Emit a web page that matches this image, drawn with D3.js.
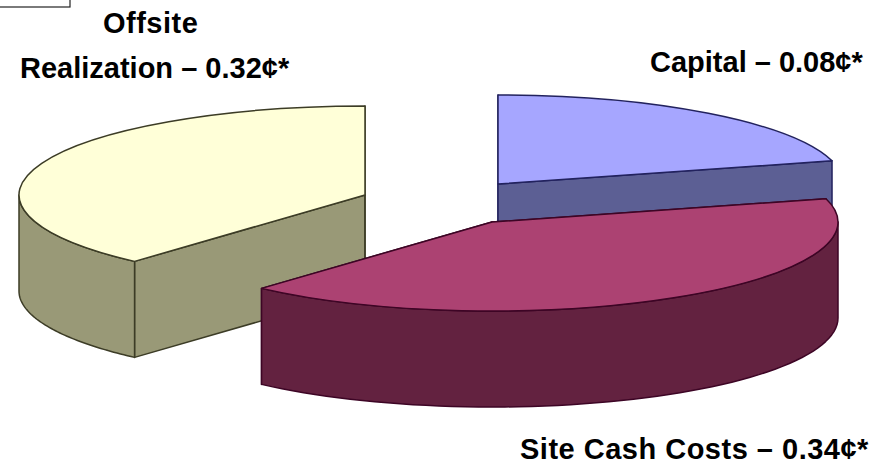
<!DOCTYPE html>
<html>
<head>
<meta charset="utf-8">
<script src="https://cdn.jsdelivr.net/npm/d3@7"></script>
<style>
  html, body { margin: 0; padding: 0; background: #fff; }
  svg { display: block; }
  text { font-family: "Liberation Sans", Arial, sans-serif; font-weight: bold; fill: #000; }
</style>
</head>
<body>
<div id="chart"></div>
<script>
/* Exploded 3D pie, cost per unit split in three */

const categories = ["Capital", "Site Cash Costs", "Offsite Realization"];
const costs = ["0.08", "0.34", "0.32"]; // cents, as printed in the labels
const shares = [20.8, 40.8, 38.4]; // slice size as drawn (%)

const topColors = ["#a6a6ff", "#ac4272", "#ffffd8"];
const wallColors = ["#5c5f94", "#632240", "#999977"];
const edgeColors = ["#22225e", "#3d0525", "#3c3c26"];

const width = 878,
      height = 464,
      rx = 346,
      ry = 89,
      depth = 96;

// where each slice got pulled to
const centers = [[498, 184], [492, 222], [365, 195]];

let svg = d3.select("#chart")
    .append("svg")
    .attr("width", width)
    .attr("height", height)
    .attr("viewBox", [0, 0, width, height]);

let pie = d3.pie().sort(null).value(d => d);
let slices = pie(shares);

let arc = d3.arc().innerRadius(0).outerRadius(rx);
let line = d3.line();

// screen position of a rim point on the tilted pie
const rim = (i, a, drop = 0) => [
    centers[i][0] + rx * Math.sin(a),
    centers[i][1] - ry * Math.cos(a) + drop
];

function cutFace(i, a) {
    return line([centers[i], rim(i, a), rim(i, a, depth), [centers[i][0], centers[i][1] + depth]]) + "Z";
}

function outerWall(i, d) {
    // only the front half of the rim can be seen
    const a0 = Math.max(d.startAngle, Math.PI / 2),
          a1 = Math.min(d.endAngle, 3 * Math.PI / 2);
    if (a1 <= a0) return null;
    const steps = d3.range(0, 61).map(k => a0 + (a1 - a0) * k / 60);
    const upper = steps.map(a => rim(i, a));
    const lower = steps.slice().reverse().map(a => rim(i, a, depth));
    return line(upper.concat(lower)) + "Z";
}

// draw order matters, the site slice sits on top of the other two
[0, 2, 1].forEach(i => {
    const d = slices[i];
    let g = svg.append("g")
        .attr("class", "slice")
        .attr("stroke", edgeColors[i])
        .attr("stroke-width", 1.5)
        .attr("stroke-linejoin", "round");

    [d.startAngle, d.endAngle].forEach(a => {
        g.append("path")
            .attr("d", cutFace(i, a))
            .attr("fill", wallColors[i]);
    });

    const wall = outerWall(i, d);
    if (wall) {
        g.append("path")
            .attr("d", wall)
            .attr("fill", wallColors[i]);
    }

    g.append("path")
        .attr("d", arc(d))
        .attr("transform", `translate(${centers[i]}) scale(1,${ry / rx})`)
        .attr("vector-effect", "non-scaling-stroke")
        .attr("fill", topColors[i]);
});

// leftover box in the top left corner
svg.append("rect")
    .attr("x", -2)
    .attr("y", -2)
    .attr("width", 72)
    .attr("height", 9)
    .attr("fill", "none")
    .attr("stroke", "#222")
    .attr("stroke-width", 1.2);

const label = (i) => `${i} \u2013 `;

svg.append("text")
    .attr("x", 103)
    .attr("y", 33)
    .attr("font-size", 29)
    .attr("letter-spacing", 0.5)
    .text("Offsite");

svg.append("text")
    .attr("x", 20)
    .attr("y", 78)
    .attr("font-size", 29)
    .text(`Realization \u2013 ${costs[2]}\u00a2*`);

svg.append("text")
    .attr("x", 650)
    .attr("y", 72)
    .attr("font-size", 29)
    .text(`${label(categories[0])}${costs[0]}\u00a2*`);

svg.append("text")
    .attr("x", 520)
    .attr("y", 459)
    .attr("font-size", 29)
    .attr("letter-spacing", 0.5)
    .text(`${label(categories[1])}${costs[1]}\u00a2*`);
</script>
</body>
</html>
